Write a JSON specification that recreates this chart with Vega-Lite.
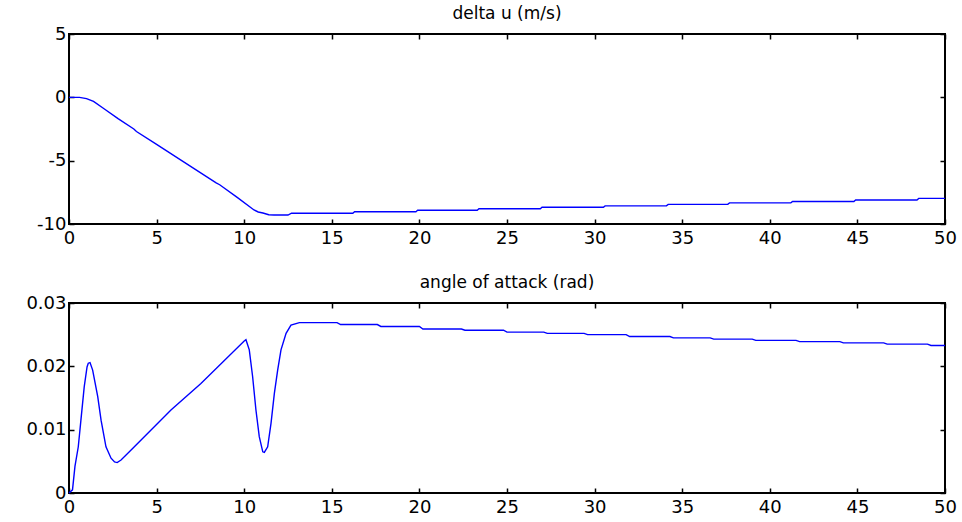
{
  "$schema": "https://vega.github.io/schema/vega-lite/v6.json",
  "background": "white",
  "padding": {"left": 10, "top": 4, "right": 10, "bottom": 5},
  "spacing": 25,
  "config": {
    "view": {"stroke": "black", "strokeWidth": 2},
    "font": "DejaVu Sans",
    "axis": {
      "domain": false, "grid": false, "ticks": true, "tickSize": -5, "tickColor": "black", "tickWidth": 1.5,
      "labelFont": "DejaVu Sans", "labelFontSize": 18, "labelColor": "black", "title": null, "labelFlush": false, "labelOverlap": false
    },
    "title": {"font": "DejaVu Sans", "fontSize": 17, "fontWeight": "normal", "color": "black", "offset": 2}
  },
  "datasets": {
    "du": [
      {"t":0,"v":0},{"t":0.6,"v":0},{"t":1.0,"v":-0.1},{"t":1.4,"v":-0.32},{"t":2.0,"v":-0.9},{"t":2.8,"v":-1.68},{"t":3.7,"v":-2.5},{"t":3.85,"v":-2.7},{"t":5,"v":-3.72},{"t":6.5,"v":-5.05},{"t":8.4,"v":-6.75},{"t":8.6,"v":-6.9},{"t":9.6,"v":-7.9},{"t":10.56,"v":-8.89},{"t":10.8,"v":-9.05},{"t":11.07,"v":-9.13},{"t":11.4,"v":-9.27},{"t":11.7,"v":-9.29},{"t":12.5,"v":-9.29},{"t":12.7,"v":-9.15},
      {"t":16.2,"v":-9.15},{"t":16.3,"v":-9.03},{"t":19.8,"v":-9.03},{"t":19.9,"v":-8.92},{"t":23.3,"v":-8.92},{"t":23.4,"v":-8.80},{"t":26.9,"v":-8.80},{"t":27.0,"v":-8.68},{"t":30.5,"v":-8.68},{"t":30.6,"v":-8.57},{"t":34.1,"v":-8.57},{"t":34.2,"v":-8.45},{"t":37.6,"v":-8.45},{"t":37.7,"v":-8.33},{"t":41.2,"v":-8.33},{"t":41.3,"v":-8.22},{"t":44.8,"v":-8.22},{"t":44.9,"v":-8.10},{"t":48.4,"v":-8.10},{"t":48.5,"v":-7.98},{"t":50,"v":-7.98}
    ],
    "aoa": [
      {"t":0,"v":0},{"t":0.2,"v":0.0005},{"t":0.34,"v":0.0042},{"t":0.53,"v":0.0073},{"t":0.68,"v":0.0115},{"t":0.87,"v":0.0168},{"t":1.03,"v":0.0199},{"t":1.1,"v":0.0205},{"t":1.2,"v":0.0206},{"t":1.35,"v":0.0194},{"t":1.64,"v":0.0152},{"t":1.83,"v":0.0115},{"t":2.11,"v":0.0073},{"t":2.4,"v":0.0055},{"t":2.6,"v":0.0049},{"t":2.75,"v":0.0048},{"t":2.97,"v":0.0052},{"t":3.73,"v":0.0073},{"t":5.82,"v":0.0131},{"t":7.53,"v":0.0173},{"t":10.0,"v":0.0240},{"t":10.1,"v":0.0242},{"t":10.29,"v":0.0226},{"t":10.48,"v":0.0184},{"t":10.67,"v":0.0131},{"t":10.86,"v":0.0089},{"t":11.06,"v":0.0065},{"t":11.15,"v":0.0064},{"t":11.34,"v":0.0073},{"t":11.53,"v":0.011},{"t":11.72,"v":0.0157},{"t":11.91,"v":0.0194},{"t":12.1,"v":0.0226},{"t":12.39,"v":0.0252},{"t":12.67,"v":0.0265},{"t":13.15,"v":0.0269},
      {"t":15.3,"v":0.0269},{"t":15.5,"v":0.0266},{"t":17.6,"v":0.0266},{"t":17.8,"v":0.0263},{"t":20.0,"v":0.0263},{"t":20.2,"v":0.0259},{"t":22.4,"v":0.0259},{"t":22.6,"v":0.0257},{"t":24.8,"v":0.0257},{"t":25.0,"v":0.0254},{"t":27.1,"v":0.0254},{"t":27.3,"v":0.0252},{"t":29.4,"v":0.0252},{"t":29.6,"v":0.0250},{"t":31.8,"v":0.0250},{"t":32.0,"v":0.0247},{"t":34.3,"v":0.0247},{"t":34.5,"v":0.0245},{"t":36.6,"v":0.0245},{"t":36.8,"v":0.0243},{"t":39.0,"v":0.0243},{"t":39.2,"v":0.0241},{"t":41.5,"v":0.0241},{"t":41.7,"v":0.0239},{"t":44.0,"v":0.0239},{"t":44.2,"v":0.0237},{"t":46.5,"v":0.0237},{"t":46.7,"v":0.0235},{"t":49.0,"v":0.0235},{"t":49.2,"v":0.0233},{"t":50,"v":0.0233}
    ]
  },
  "vconcat": [
    {
      "width": 876, "height": 190,
      "title": "delta u (m/s)",
      "data": {"name": "du"},
      "layer": [
        {
          "mark": {"type": "line", "color": "#0000ff", "strokeWidth": 1.4},
          "encoding": {
            "x": {"field": "t", "type": "quantitative", "scale": {"domain": [0, 50], "nice": false}, "axis": {"orient": "bottom", "values": [0,5,10,15,20,25,30,35,40,45,50], "labelPadding": 10}},
            "y": {"field": "v", "type": "quantitative", "scale": {"domain": [-10, 5], "nice": false, "zero": false}, "axis": {"orient": "left", "values": [-10,-5,0,5], "labelPadding": 8, "minExtent": 58, "maxExtent": 58, "labelExpr": "replace(format(datum.value, 'd'), '\u2212', '-')"}}
          }
        },
        {
          "mark": {"type": "line", "opacity": 0},
          "encoding": {
            "x": {"field": "t", "type": "quantitative", "axis": {"orient": "top", "values": [0,5,10,15,20,25,30,35,40,45,50], "labels": false, "minExtent": 0, "maxExtent": 0}},
            "y": {"field": "v", "type": "quantitative", "axis": {"orient": "right", "values": [-10,-5,0,5], "labels": false, "minExtent": 0, "maxExtent": 0}}
          }
        }
      ],
      "resolve": {"axis": {"x": "independent", "y": "independent"}}
    },
    {
      "width": 876, "height": 190,
      "title": "angle of attack (rad)",
      "data": {"name": "aoa"},
      "layer": [
        {
          "mark": {"type": "line", "color": "#0000ff", "strokeWidth": 1.4},
          "encoding": {
            "x": {"field": "t", "type": "quantitative", "scale": {"domain": [0, 50], "nice": false}, "axis": {"orient": "bottom", "values": [0,5,10,15,20,25,30,35,40,45,50], "labelPadding": 10}},
            "y": {"field": "v", "type": "quantitative", "scale": {"domain": [0, 0.03], "nice": false}, "axis": {"orient": "left", "values": [0,0.01,0.02,0.03], "labelPadding": 8, "minExtent": 58, "maxExtent": 58, "format": "~g"}}
          }
        },
        {
          "mark": {"type": "line", "opacity": 0},
          "encoding": {
            "x": {"field": "t", "type": "quantitative", "axis": {"orient": "top", "values": [0,5,10,15,20,25,30,35,40,45,50], "labels": false, "minExtent": 0, "maxExtent": 0}},
            "y": {"field": "v", "type": "quantitative", "axis": {"orient": "right", "values": [0,0.01,0.02,0.03], "labels": false, "minExtent": 0, "maxExtent": 0}}
          }
        }
      ],
      "resolve": {"axis": {"x": "independent", "y": "independent"}}
    }
  ]
}
